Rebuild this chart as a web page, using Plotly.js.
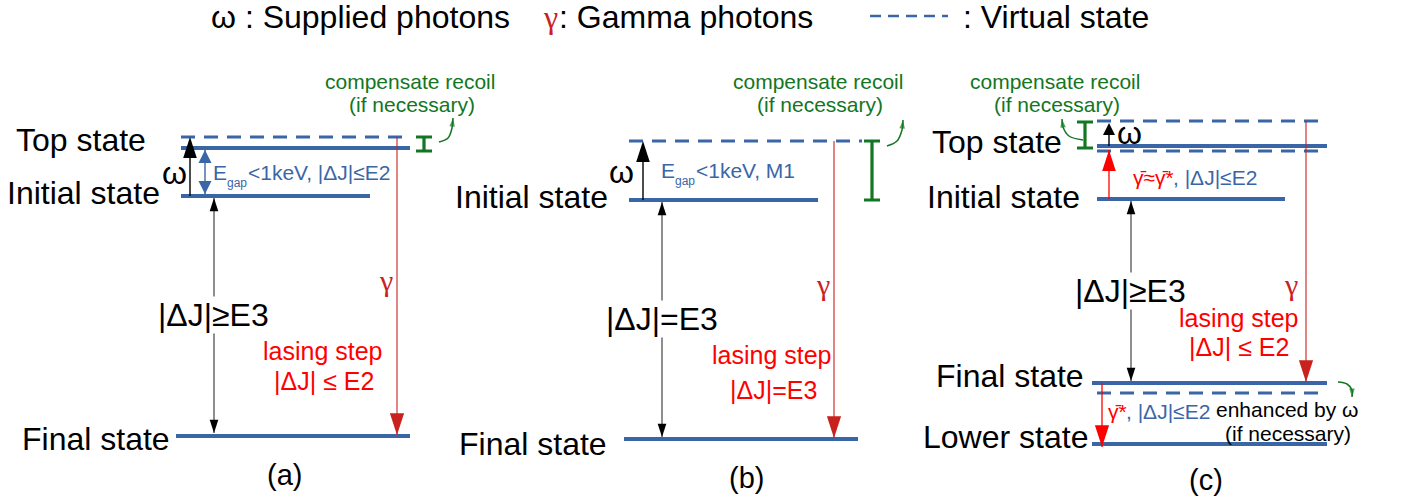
<!DOCTYPE html>
<html><head><meta charset="utf-8">
<script src="https://cdn.plot.ly/plotly-3.0.1.min.js"></script>
<style>html,body{margin:0;padding:0;background:#fff}#chart{width:1401px;height:500px}</style>
</head><body><div id="chart"></div>
<script>
// ===== Diagram data (x across the page, y = level height measured downward) =====
const panelLabels = ['(a)', '(b)', '(c)'];
// Real nuclear levels (solid)
const levelNames = ['Top state','Initial state','Final state','Initial state','Final state','Top state','Initial state','Final state','Lower state'];
const levelStart = [181, 181, 176, 629, 624, 1097, 1097, 1092, 1092];
const levelEnd   = [410, 370, 410, 818, 858, 1327, 1285, 1327, 1327];
const levelY     = [148, 196, 436, 200, 439, 146, 199, 383, 444];
// Virtual states (dashed)
const virtualStart = [181, 629, 1097, 1097, 1097];
const virtualEnd   = [410, 862, 1327, 1327, 1327];
const virtualY     = [137, 141, 121, 151, 393];
// Supplied photons ω (upward)
const omegaX    = [190, 643, 1109];
const omegaFrom = [196, 200, 146];
const omegaTo   = [137, 141, 123];
// Energy gap (panel a)
const gapX = [205], gapTop = [150], gapBottom = [194];
// High-multipolarity transition Initial <-> Final
const forbX = [214, 662, 1131], forbTop = [198, 202, 201], forbBottom = [433, 437, 381];
// Gamma lasing step
const gammaX = [397, 834, 1306], gammaFrom = [137, 141, 121], gammaTo = [435, 438, 382];
// Stimulating gamma photons (panel c)
const pumpX = [1109, 1102], pumpFrom = [199, 383], pumpTo = [150, 447];
// Recoil compensation range
const recoilX = [424, 872, 1085], recoilTop = [137, 141, 122], recoilBottom = [151, 200, 148];
// Curved pointers
const pointerX = [[439, 448, 452, 453], [887, 897, 902, 903], [1083, 1069, 1063, 1062], [1338, 1347, 1352, 1352]];
const pointerY = [[142, 138, 128, 118], [146, 141, 130, 120], [140, 136, 127, 119], [382, 384, 390, 397]];
// Legend dashed sample
const legendDashX = [870, 948], legendDashY = [16, 16];

// ===== Styles =====
const BLUE = '#3a66a7', GREEN = '#127622', DRED = '#c9211e', RED = '#ff0000';
const FONT = 'Liberation Sans, Arial, sans-serif';
const SERIF = 'Liberation Serif, DejaVu Serif, serif';
const BIG = 32;

function hsegs(x0, x1, y) { const X = [], Y = []; for (let i = 0; i < y.length; i++) { X.push(x0[i], x1[i], null); Y.push(y[i], y[i], null); } return {X, Y}; }
function vsegs(x, y0, y1) { const X = [], Y = []; for (let i = 0; i < x.length; i++) { X.push(x[i], x[i], null); Y.push(y0[i], y1[i], null); } return {X, Y}; }
function lineTrace(s, color, width, dash) { return {type: 'scatter', mode: 'lines', x: s.X, y: s.Y, line: {color, width, dash: dash || 'solid'}, hoverinfo: 'skip'}; }
function headTrace(x, y, symbol, angle, size, color) { return {type: 'scatter', mode: 'markers', x, y, marker: {symbol, angle, size, color, line: {width: 0}}, hoverinfo: 'skip'}; }

const traces = [];
traces.push(lineTrace(hsegs(levelStart, levelEnd, levelY), BLUE, 4));
traces.push(lineTrace(hsegs(virtualStart, virtualEnd, virtualY), BLUE, 3, '14px,9px'));
traces.push(lineTrace(hsegs([legendDashX[0]], [legendDashX[1]], [legendDashY[0]]), BLUE, 2.5, '11px,7px'));
// ω arrows
traces.push(lineTrace(vsegs(omegaX, omegaFrom, omegaTo.map((t, i) => i < 2 ? t + 8 : t + 4)), '#000', 1.4));
traces.push(headTrace(omegaX.slice(0, 2), omegaTo.slice(0, 2), 'arrow', 0, 22, '#000'));
traces.push(headTrace(omegaX.slice(2), omegaTo.slice(2), 'arrow-up', 0, 12, '#000'));
// gap double arrow
traces.push(lineTrace(vsegs(gapX, gapTop, gapBottom), BLUE, 1.4));
traces.push(headTrace(gapX, gapTop, 'arrow-up', 0, 13, BLUE));
traces.push(headTrace(gapX, gapBottom, 'arrow-down', 0, 13, BLUE));
// forbidden double arrows
traces.push(lineTrace(vsegs(forbX, forbTop, forbBottom), '#444', 1.2));
traces.push(headTrace(forbX, forbTop, 'arrow', 0, 14, '#000'));
traces.push(headTrace(forbX, forbBottom, 'arrow', 180, 14, '#000'));
// gamma lines
traces.push(lineTrace(vsegs(gammaX, gammaFrom, gammaTo), DRED, 1.1));
traces.push(headTrace(gammaX, gammaTo, 'arrow', 180, 23, DRED));
// pump arrows (c)
traces.push(lineTrace(vsegs(pumpX, pumpFrom, pumpTo), RED, 1.3));
traces.push(headTrace([pumpX[0]], [pumpTo[0]], 'arrow', 0, 22, RED));
traces.push(headTrace([pumpX[1]], [pumpTo[1]], 'arrow', 180, 23, RED));
// recoil I-beams
traces.push(lineTrace(vsegs(recoilX, recoilTop, recoilBottom), GREEN, 3.2));
traces.push(lineTrace(hsegs(recoilX.map(v => v - 8), recoilX.map(v => v + 8), recoilTop), GREEN, 3));
traces.push(lineTrace(hsegs(recoilX.map(v => v - 8), recoilX.map(v => v + 8), recoilBottom), GREEN, 3));
// curved pointers
pointerX.forEach((px, i) => {
  const py = pointerY[i];
  traces.push({type: 'scatter', mode: 'lines+markers', x: px, y: py,
    line: {color: GREEN, width: 1.5, shape: 'spline'},
    marker: {symbol: 'arrow', angleref: 'previous', size: px.map((v, k) => k === px.length - 1 ? 9 : 0), color: GREEN, line: {width: 0}},
    hoverinfo: 'skip'});
});

// ===== Text =====
function T(x, y, text, size, color, opts) {
  return Object.assign({x, y, xref: 'x', yref: 'y', text, showarrow: false, xanchor: 'center', yanchor: 'middle',
    font: {family: FONT, size, color: color || '#000'}}, opts || {});
}
const L = {xanchor: 'left'};
const ann = [];
// header legend
ann.push(T(209, 17, 'ω : Supplied photons', BIG, '#000', L));
ann.push(T(541, 17, 'γ', BIG, DRED, {xanchor: 'left', font: {family: SERIF, size: BIG, color: DRED}}));
ann.push(T(557, 17, ': Gamma photons', BIG, '#000', L));
ann.push(T(961, 17, ': Virtual state', BIG, '#000', L));

// level labels
const labelX = [81, 83, 96, 531, 533, 997, 1003, 1010, 1005];
const labelY = [140, 193, 439, 197, 444, 142, 197, 376, 437];
levelNames.forEach((n, i) => ann.push(T(labelX[i], labelY[i], n, BIG)));

// compensate recoil notes
[410, 818, 1055].forEach(cx => {
  ann.push(T(cx, 81, 'compensate recoil', 21, GREEN));
  ann.push(T(cx + 2, 104, '(if necessary)', 21, GREEN));
});

// ω labels
ann.push(T(174, 173, 'ω', BIG));
ann.push(T(621, 172, 'ω', BIG));
ann.push(T(1129, 133, 'ω', BIG));

// gap annotations (a) and (b): E, subscript "gap", rest
ann.push(T(211, 172, 'E', 21, BLUE, L));
ann.push(T(225, 183, 'gap', 12, BLUE, L));
ann.push(T(246, 172, '&lt;1keV, |ΔJ|≤E2', 21, BLUE, L));
ann.push(T(659, 170, 'E', 21, BLUE, L));
ann.push(T(673, 181, 'gap', 12, BLUE, L));
ann.push(T(694, 170, '&lt;1keV, M1', 21, BLUE, L));
// (c) stimulated photon labels
ann.push(T(1131, 177, 'γ\u0304≈γ\u0304*', 21, RED, L));
ann.push(T(1171, 177, ', |ΔJ|≤E2', 21, BLUE, L));
ann.push(T(1106, 411, 'γ\u0304*', 21, RED, L));
ann.push(T(1124, 411, ', |ΔJ|≤E2', 21, BLUE, L));
ann.push(T(1214, 409, 'enhanced by ω', 21, '#000', L));
ann.push(T(1288, 433, '(if necessary)', 21, '#000'));

// transition multipolarity labels
ann.push(T(213, 315, '|ΔJ|≥E3', BIG, '#000', {bgcolor: '#fff', borderpad: 0}));
ann.push(T(662, 319, '|ΔJ|=E3', BIG, '#000', {bgcolor: '#fff', borderpad: 0}));
ann.push(T(1130, 291, '|ΔJ|≥E3', BIG, '#000', {bgcolor: '#fff', borderpad: 0}));

// gamma symbols
[[386, 280], [823, 284], [1291, 284]].forEach(([x, y]) => ann.push(T(x, y, 'γ', 30, DRED, {font: {family: SERIF, size: 30, color: DRED}})));

// lasing step labels
ann.push(T(323, 351, 'lasing step', 25, RED));
ann.push(T(324, 381, '|ΔJ| ≤ E2', 25, RED));
ann.push(T(772, 355, 'lasing step', 25, RED));
ann.push(T(773, 390, '|ΔJ|=E3', 25, RED));
ann.push(T(1239, 318, 'lasing step', 25, RED));
ann.push(T(1239, 347, '|ΔJ| ≤ E2', 25, RED));

// panel captions
const captionX = [284, 746, 1206], captionY = [475, 478, 480];
panelLabels.forEach((p, i) => ann.push(T(captionX[i], captionY[i], p, 29)));

const layout = {
  width: 1401, height: 500, margin: {l: 0, r: 0, t: 0, b: 0},
  paper_bgcolor: '#fff', plot_bgcolor: '#fff', showlegend: false,
  font: {family: FONT},
  xaxis: {range: [0, 1401], visible: false, fixedrange: true},
  yaxis: {range: [500, 0], visible: false, fixedrange: true},
  annotations: ann
};
Plotly.newPlot('chart', traces, layout, {displayModeBar: false, staticPlot: true});
</script>
</body></html>
